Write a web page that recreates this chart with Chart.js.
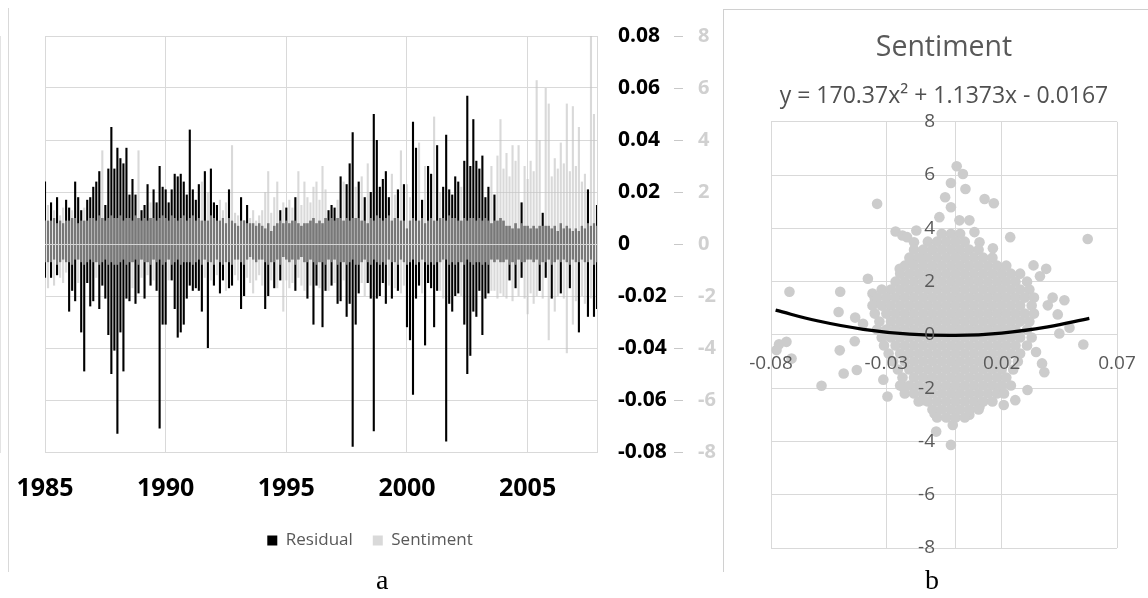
<!DOCTYPE html>
<html>
<head>
<meta charset="utf-8">
<script src="https://cdn.jsdelivr.net/npm/chart.js@4.4.1/dist/chart.umd.min.js"></script>
<style>
  body { margin: 0; background: #fff; }
  #wrap { position: relative; width: 1148px; height: 598px; overflow: hidden; }
  canvas { position: absolute; }
  .frame { position: absolute; box-sizing: border-box; }
  .tag { position: absolute; font-family: "Liberation Serif", "DejaVu Serif", serif; font-size: 28px; line-height: 28px; color: #000; }
</style>
</head>
<body>
<div id="wrap">
  <div class="frame" style="left:8px;top:8px;width:1px;height:564px;border-left:1px solid #d9d9d9"></div>
  <div class="frame" style="left:723px;top:9px;width:430px;height:563px;border-left:1px solid #d0d0d0;border-top:1px solid #d0d0d0"></div>
  <canvas id="residChart" width="740" height="572" style="left:0;top:0"></canvas>
  <canvas id="scatterChart" width="425" height="563" style="left:723px;top:9px"></canvas>
  <div class="tag" style="left:376px;top:566px">a</div>
  <div class="tag" style="left:925px;top:566px">b</div>
</div>
<script>
const FONT = '"Open Sans", "DejaVu Sans", sans-serif';
Chart.defaults.font.family = FONT;

// ---- panel a: residual vs sentiment, 8 periods per year, 1985-2007 ----
const yearTicks = ['1985', '1990', '1995', '2000', '2005'];
const periodsPerYear = 8;

const residualHigh = [
  .024,.009,.016,.010,.018,.009,.008,.017,
  .014,.010,.024,.018,.013,.009,.017,.018,
  .022,.024,.028,.010,.015,.029,.045,.029,
  .037,.033,.031,.037,.019,.025,.019,.010,
  .013,.015,.023,.010,.021,.016,.030,.022,
  .021,.016,.021,.027,.026,.027,.024,.019,
  .044,.021,.017,.023,.009,.028,.009,.029,
  .016,.015,.009,.010,.008,.021,.009,.008,
  .007,.018,.009,.015,.008,.008,.007,.008,
  .007,.006,.008,.005,.007,.008,.013,.008,
  .014,.008,.009,.018,.008,.007,.008,.008,
  .009,.010,.008,.009,.008,.010,.013,.015,
  .014,.010,.026,.009,.023,.031,.043,.010,
  .024,.009,.018,.008,.020,.050,.040,.022,
  .025,.028,.018,.009,.010,.021,.009,.023,
  .006,.009,.047,.037,.009,.017,.008,.030,
  .027,.009,.038,.010,.022,.042,.021,.019,
  .026,.024,.009,.032,.057,.030,.048,.032,
  .029,.034,.018,.022,.008,.019,.009,.010,
  .009,.007,.007,.006,.008,.006,.016,.007,
  .007,.006,.007,.006,.007,.012,.007,.007,
  .006,.007,.005,.008,.006,.007,.006,.005,
  .006,.005,.007,.006,.021,.007,.008,.015
];
const residualLow = [
  -.013,-.007,-.013,-.006,-.012,-.007,-.006,-.007,
  -.026,-.018,-.022,-.006,-.034,-.049,-.015,-.024,
  -.022,-.007,-.025,-.016,-.021,-.035,-.050,-.041,
  -.073,-.034,-.049,-.021,-.022,-.007,-.023,-.019,
  -.006,-.021,-.007,-.016,-.006,-.018,-.071,-.031,
  -.031,-.006,-.014,-.025,-.036,-.034,-.031,-.021,
  -.016,-.018,-.017,-.018,-.026,-.006,-.040,-.007,
  -.016,-.006,-.019,-.014,-.007,-.017,-.016,-.006,
  -.006,-.025,-.020,-.006,-.005,-.006,-.007,-.006,
  -.006,-.025,-.020,-.007,-.017,-.006,-.014,-.005,
  -.006,-.007,-.006,-.018,-.006,-.005,-.007,-.021,
  -.006,-.031,-.016,-.007,-.032,-.018,-.006,-.016,
  -.006,-.023,-.022,-.007,-.028,-.023,-.078,-.031,
  -.019,-.007,-.006,-.015,-.021,-.072,-.021,-.020,
  -.015,-.023,-.006,-.021,-.007,-.018,-.006,-.007,
  -.032,-.037,-.058,-.021,-.016,-.006,-.039,-.015,
  -.017,-.032,-.018,-.007,-.006,-.076,-.023,-.026,
  -.020,-.019,-.007,-.031,-.050,-.043,-.026,-.028,
  -.018,-.035,-.021,-.019,-.006,-.007,-.006,-.007,
  -.007,-.006,-.014,-.007,-.017,-.006,-.013,-.007,
  -.006,-.006,-.007,-.006,-.018,-.007,-.013,-.006,
  -.021,-.007,-.006,-.019,-.006,-.007,-.017,-.006,
  -.007,-.034,-.006,-.007,-.028,-.006,-.028,-.025
];
const sentimentHigh = [
  0.9,1.5,0.9,1.3,0.8,1.1,1.4,0.9,
  0.9,1.3,1.0,0.8,0.9,1.4,0.9,1.0,
  1.0,0.9,1.1,3.6,0.9,1.0,1.1,1.0,
  1.0,1.1,0.9,1.0,1.0,0.9,1.1,3.6,
  0.9,1.0,0.9,1.6,1.0,0.9,1.0,1.1,
  1.0,0.9,1.1,1.0,0.9,1.0,1.1,0.9,
  1.0,1.1,0.9,1.0,2.4,0.9,2.0,1.1,
  1.0,0.9,1.7,1.3,1.6,1.0,3.8,1.2,
  1.1,0.9,0.9,0.8,1.0,1.3,0.9,1.1,
  1.3,2.0,2.8,1.2,1.8,2.4,0.9,1.6,
  0.9,1.7,1.4,0.9,2.8,1.5,2.4,1.8,
  1.6,2.2,2.4,1.7,3.0,2.1,0.9,1.0,
  0.9,1.7,1.0,2.4,1.0,0.9,1.0,2.2,
  1.0,2.6,0.9,3.1,1.0,0.9,1.1,1.0,
  0.9,1.0,1.1,2.7,1.9,1.0,3.6,0.9,
  2.3,1.8,1.0,0.9,3.9,1.0,3.0,0.9,
  1.0,4.9,0.9,2.0,1.0,0.9,1.1,1.0,
  1.0,0.9,2.2,1.0,0.9,1.0,1.0,0.9,
  1.0,0.9,1.0,0.9,3.0,0.9,3.4,4.8,
  2.9,3.5,2.6,3.8,3.2,3.8,0.8,3.0,
  2.5,3.2,2.8,6.3,4.0,0.7,6.0,5.4,
  2.6,3.3,2.9,3.9,3.1,5.4,2.8,5.3,
  3.0,4.5,2.4,2.7,0.8,8.6,5.0,0.7
];
const sentimentLow = [
  -0.7,-1.7,-0.7,-1.6,-0.8,-1.3,-1.5,-1.1,
  -0.7,-0.8,-0.6,-1.5,-0.7,-0.8,-0.7,-0.6,
  -0.7,-1.3,-0.8,-0.7,-0.6,-0.8,-0.7,-0.8,
  -0.8,-0.7,-0.6,-0.8,-0.7,-1.7,-0.6,-0.8,
  -1.3,-0.7,-1.2,-0.8,-1.4,-0.7,-0.6,-0.8,
  -0.7,-1.4,-0.8,-0.7,-0.6,-0.8,-0.7,-0.7,
  -0.7,-0.8,-0.7,-0.6,-0.8,-1.3,-0.7,-1.4,
  -0.8,-1.2,-0.7,-0.8,-1.8,-0.7,-0.8,-1.2,
  -1.4,-0.7,-0.8,-1.3,-1.5,-1.9,-1.4,-1.2,
  -1.6,-0.7,-0.8,-1.4,-0.7,-1.7,-0.8,-2.6,
  -1.4,-1.7,-1.5,-0.8,-1.3,-1.6,-1.8,-0.7,
  -1.6,-0.7,-0.8,-1.7,-0.7,-0.8,-1.8,-0.7,
  -1.5,-0.8,-0.7,-1.4,-0.8,-0.7,-0.6,-0.8,
  -0.8,-1.5,-2.0,-0.7,-0.8,-0.6,-0.7,-0.8,
  -0.7,-0.8,-1.6,-0.7,-1.7,-0.8,-1.9,-1.6,
  -0.8,-0.7,-0.6,-0.8,-0.7,-1.9,-0.7,-0.8,
  -0.7,-0.8,-0.7,-1.8,-2.1,-0.6,-0.8,-0.7,
  -0.8,-0.7,-2.0,-0.8,-0.6,-0.7,-0.8,-0.7,
  -0.7,-0.8,-0.7,-0.8,-1.8,-1.8,-2.1,-1.9,
  -2.0,-2.1,-0.8,-2.2,-0.8,-2.0,-0.7,-2.1,
  -2.7,-1.9,-2.3,-2.0,-0.8,-2.1,-0.7,-3.7,
  -0.8,-2.6,-2.0,-0.7,-2.1,-4.2,-0.8,-3.1,
  -2.2,-0.7,-2.0,-2.3,-0.7,-2.1,-0.8,-0.7
];

const periodLabels = residualHigh.map((_, i) =>
  i % (periodsPerYear * 5) === 0 ? yearTicks[i / (periodsPerYear * 5)] : '');

new Chart(document.getElementById('residChart'), {
  type: 'bar',
  data: {
    labels: periodLabels,
    datasets: [
      {
        label: 'Residual',
        data: residualLow.map((lo, i) => [lo, residualHigh[i]]),
        backgroundColor: '#000000',
        yAxisID: 'y',
        order: 2
      },
      {
        // semi-transparent so the overlap with the black bars reads mid-grey
        label: 'Sentiment',
        data: sentimentLow.map((lo, i) => [lo, sentimentHigh[i]]),
        backgroundColor: 'rgba(193, 193, 193, 0.62)',
        yAxisID: 'y2',
        order: 1
      }
    ]
  },
  options: {
    responsive: false,
    animation: false,
    events: [],
    datasets: { bar: { grouped: false, barPercentage: 0.7, categoryPercentage: 1, borderWidth: 0 } },
    layout: { padding: { left: 0, top: 36, right: 0, bottom: 13 } },
    plugins: {
      tooltip: { enabled: false },
      legend: {
        position: 'bottom',
        labels: {
          boxWidth: 10, boxHeight: 10, padding: 20, color: '#595959',
          font: { size: 17 },
          sort: (a, b) => a.datasetIndex - b.datasetIndex
        }
      }
    },
    scales: {
      x: {
        offset: false,
        grid: { offset: false, color: '#d9d9d9', drawTicks: false },
        border: { display: false },
        ticks: {
          autoSkip: false, maxRotation: 0, padding: 22, color: '#000',
          font: { size: 25, weight: 'bold' },
          callback: (v, i) => periodLabels[i] || null
        },
        afterFit: s => { s.height = 60; s.paddingLeft = 45; s.paddingRight = 0; }
      },
      y: {
        position: 'right',
        min: -0.08, max: 0.08,
        ticks: {
          stepSize: 0.02, padding: 21, color: '#000',
          font: { size: 21, weight: 'bold' },
          callback: v => Math.abs(v) < 1e-9 ? '0' : v.toFixed(2)
        },
        grid: { color: '#d9d9d9', drawTicks: false },
        border: { display: true, color: '#d9d9d9' },
        afterFit: s => { s.width = 76; }
      },
      y2: {
        position: 'right',
        min: -8, max: 8,
        ticks: { stepSize: 2, padding: 15, color: '#d0d0d0', font: { size: 20, weight: 'bold' } },
        grid: {
          z: 1,
          color: c => (c.tick && c.tick.value === 0) ? '#d4d4d4' : 'rgba(0,0,0,0)',
          tickColor: '#c8c8c8', tickLength: 10
        },
        border: { display: true, color: '#c8c8c8' },
        afterFit: s => { s.width = 67; }
      }
    }
  }
});

// ---- panel b: sentiment vs residual scatter ----
const xTicks = [-0.08, -0.03, 0.02, 0.07];
const xGridTicks = [-0.08, -0.03, 0, 0.02, 0.07];

const trendX = [-0.078, -0.06, -0.04, -0.02, 0, 0.02, 0.04, 0.058];
const trendY = [0.93, 0.53, 0.21, 0.03, -0.02, 0.07, 0.30, 0.62];

const outlierPoints = [
  [-0.034,4.92],[-0.072,1.62],[-0.050,1.62],[-0.038,2.11],[-0.026,3.88],[-0.023,3.73],
  [-0.017,3.92],[-0.021,3.67],[-0.018,3.48],[-0.007,4.42],[-0.0045,5.17],[-0.002,4.79],
  [-0.002,5.7],[0.0005,6.33],[0.0032,6.04],[0.0043,5.48],[0.0126,5.1],[0.0166,4.94],
  [0.006,4.3],[0.0017,4.3],[0.0082,3.86],[0.0104,3.48],[0.0162,3.25],[0.0237,3.67],
  [0.0573,3.6],[0.0338,2.61],[0.0393,2.48],[0.0366,2.2],[0.0421,1.4],[0.0472,1.3],
  [0.040,1.11],[0.0443,0.77],[0.0494,0.27],[0.045,0.05],[0.0554,-0.36],[0.0349,-0.64],
  [0.0375,-1.07],[0.0385,-1.4],[0.0312,-2.07],[0.0259,-2.45],[0.0209,-2.63],[0.0104,-2.7],
  [0.006,-3.0],[-0.0012,-3.38],[-0.002,-4.13],[-0.0084,-3.63],[-0.0091,-2.95],[-0.0142,-2.45],
  [-0.0295,-2.31],[-0.0313,-1.68],[-0.0228,-1.95],[-0.0581,-1.91],[-0.0485,-1.45],[-0.0428,-1.32],
  [-0.0502,-0.58],[-0.0437,-0.24],[-0.0776,-0.57],[-0.0733,-0.26],[-0.0765,-0.35],[-0.0711,-0.89],
  [-0.0507,0.86],[-0.0435,0.65],[-0.0401,0.42],[-0.036,1.55],[-0.035,1.36],[-0.0242,2.48],
  [-0.0185,2.73],[-0.0142,2.86]
];

// dense core of the cloud, read row by row
const coreRowY = [3.8, 3.5, 3.2, 2.9, 2.6, 2.3, 2.0, 1.7, 1.4, 1.1, 0.8, 0.5, 0.2,
  -0.1, -0.4, -0.7, -1.0, -1.3, -1.6, -1.9, -2.2, -2.5, -2.8, -3.1];
const coreRowX = [
  [-.006,-.002,.002],
  [-.012,-.008,-.004,0,.004],
  [-.018,-.014,-.010,-.006,-.002,.002,.006,.010],
  [-.020,-.016,-.012,-.008,-.004,0,.004,.008,.012,.016],
  [-.022,-.018,-.014,-.010,-.006,-.002,.002,.006,.010,.014,.018,.022],
  [-.024,-.020,-.016,-.012,-.008,-.004,0,.004,.008,.012,.016,.020,.024,.028],
  [-.026,-.022,-.018,-.014,-.010,-.006,-.002,.002,.006,.010,.014,.018,.022,.026,.031],
  [-.032,-.028,-.024,-.020,-.016,-.012,-.008,-.004,0,.004,.008,.012,.016,.020,.024,.028,.032],
  [-.034,-.030,-.026,-.022,-.018,-.014,-.010,-.006,-.002,.002,.006,.010,.014,.018,.022,.026,.030,.034],
  [-.036,-.032,-.028,-.024,-.020,-.016,-.012,-.008,-.004,0,.004,.008,.012,.016,.020,.024,.028,.033],
  [-.035,-.030,-.026,-.022,-.018,-.014,-.010,-.006,-.002,.002,.006,.010,.014,.018,.022,.026,.030,.034],
  [-.033,-.028,-.024,-.020,-.016,-.012,-.008,-.004,0,.004,.008,.012,.016,.020,.024,.028,.032],
  [-.034,-.030,-.026,-.022,-.018,-.014,-.010,-.006,-.002,.002,.006,.010,.014,.018,.022,.026,.031],
  [-.032,-.028,-.024,-.020,-.016,-.012,-.008,-.004,0,.004,.008,.012,.016,.020,.024,.028,.033],
  [-.031,-.026,-.022,-.018,-.014,-.010,-.006,-.002,.002,.006,.010,.014,.018,.022,.026,.031],
  [-.029,-.024,-.020,-.016,-.012,-.008,-.004,0,.004,.008,.012,.016,.020,.024,.028],
  [-.027,-.022,-.018,-.014,-.010,-.006,-.002,.002,.006,.010,.014,.018,.022,.027],
  [-.025,-.020,-.016,-.012,-.008,-.004,0,.004,.008,.012,.016,.020,.025],
  [-.023,-.018,-.014,-.010,-.006,-.002,.002,.006,.010,.014,.018,.022],
  [-.024,-.020,-.016,-.012,-.008,-.004,0,.004,.008,.012,.016,.020,.024],
  [-.022,-.018,-.014,-.010,-.006,-.002,.002,.006,.010,.014,.018,.021],
  [-.016,-.012,-.008,-.004,0,.004,.008,.012,.016],
  [-.010,-.006,-.002,.002,.006,.010],
  [-.008,-.004,0,.004]
];

const sentimentPoints = outlierPoints.map(p => ({ x: p[0], y: p[1] }));
coreRowY.forEach((y, r) => coreRowX[r].forEach(x => sentimentPoints.push({ x, y })));

const tickFont = { size: 19 };
new Chart(document.getElementById('scatterChart'), {
  type: 'scatter',
  data: {
    datasets: [
      {
        type: 'line',
        data: trendX.map((x, i) => ({ x, y: trendY[i] })),
        borderColor: '#000', borderWidth: 3.2, pointRadius: 0, tension: 0.4, fill: false,
        order: 1
      },
      {
        data: sentimentPoints,
        backgroundColor: '#cccccc', borderWidth: 0, pointRadius: 5.3,
        order: 2
      }
    ]
  },
  options: {
    responsive: false,
    animation: false,
    events: [],
    layout: { padding: { left: 48, right: 31, top: 0, bottom: 24 } },
    plugins: {
      legend: { display: false },
      tooltip: { enabled: false },
      title: {
        display: true, text: 'Sentiment', color: '#595959',
        font: { size: 28.5, weight: 'normal' }, padding: { top: 22, bottom: 0 }
      },
      subtitle: {
        display: true, text: 'y = 170.37x² + 1.1373x - 0.0167', color: '#505050',
        font: { size: 23 }, padding: { top: 17, bottom: 12 }
      }
    },
    scales: {
      xg: {
        type: 'linear', position: 'bottom', min: -0.08, max: 0.07,
        afterBuildTicks: s => { s.ticks = xGridTicks.map(v => ({ value: v })); },
        ticks: { display: false }, grid: { color: '#d9d9d9', drawTicks: false },
        border: { display: false },
        afterFit: s => { s.height = 0; s.paddingLeft = 0; s.paddingRight = 0; }
      },
      yg: {
        type: 'linear', position: 'left', min: -8, max: 8,
        ticks: { display: false, stepSize: 2 }, grid: { color: '#d9d9d9', drawTicks: false },
        border: { display: false },
        afterFit: s => { s.width = 0; s.paddingTop = 0; s.paddingBottom = 0; }
      },
      x: {
        type: 'linear', position: { y: 0 }, min: -0.08, max: 0.07,
        afterBuildTicks: s => { s.ticks = xTicks.map(v => ({ value: v })); },
        ticks: { z: 1, padding: 17, color: '#595959', font: tickFont, callback: v => String(Math.round(v * 100) / 100) },
        grid: { display: false, drawTicks: false }, border: { display: false },
        afterFit: s => { s.paddingLeft = 0; s.paddingRight = 0; }
      },
      y: {
        // labels drawn inside the plot, right-aligned just left of the x = 0 axis
        position: 'right', min: -8, max: 8,
        ticks: { z: 1, mirror: true, padding: -182, stepSize: 2, color: '#595959', font: tickFont },
        grid: { display: false, drawTicks: false }, border: { display: false },
        afterFit: s => { s.width = 0; s.paddingTop = 0; s.paddingBottom = 0; }
      }
    }
  }
});
</script>
</body>
</html>
